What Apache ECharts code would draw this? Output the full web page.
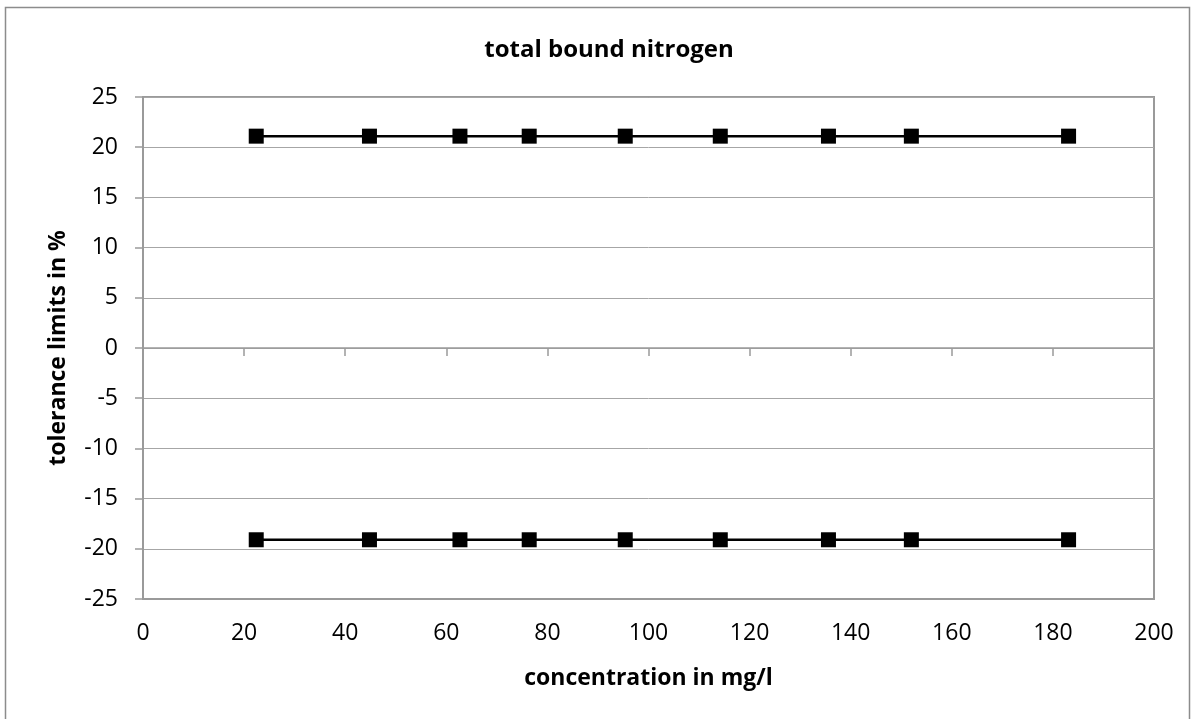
<!DOCTYPE html>
<html>
<head>
<meta charset="utf-8">
<script src="https://cdn.jsdelivr.net/npm/echarts@6/dist/echarts.min.js"></script>
<style>
    html, body { margin: 0; padding: 0; background: #fff; }
</style>
</head>
<body>
<div id="main" style="width: 1194px;height:719px;"></div>
<script>
    // concentration values (mg/l)
    var concentration = [22.4, 44.8, 62.7, 76.4, 95.4, 114.2, 135.6, 152.0, 183.1];
    // upper / lower tolerance limits (%)
    var upperLimit = [21.1, 21.1, 21.1, 21.1, 21.1, 21.1, 21.1, 21.1, 21.1];
    var lowerLimit = [-19.1, -19.1, -19.1, -19.1, -19.1, -19.1, -19.1, -19.1, -19.1];

    function pairs(xs, ys) {
        var out = [];
        for (var i = 0; i < xs.length; i++) {
            out.push([xs[i], ys[i]]);
        }
        return out;
    }

    var fontName = 'Open Sans';
    var myChart = echarts.init(document.getElementById('main'));

    var option = {
        backgroundColor: '#FFFFFF',
        animation: false,
        title: {
            text: 'total bound nitrogen',
            left: 604,
            textAlign: 'center',
            top: 33,
            textStyle: {color: '#000', fontFamily: fontName, fontWeight: 'bold', fontSize: 24}
        },
        graphic: [{
            type: 'rect',
            shape: {x: 5.5, y: 7.5, width: 1184, height: 716},
            style: {fill: 'none', stroke: '#8c8c8c', lineWidth: 1.5}
        }],
        grid: {
            show: true,
            left: 143,
            top: 97,
            right: 40,
            bottom: 120,
            borderColor: '#9a9a9a',
            borderWidth: 2,
            backgroundColor: '#FFFFFF'
        },
        xAxis: [{
            type: 'value',
            min: 0,
            max: 200,
            interval: 20,
            position: 'bottom',
            name: 'concentration in mg/l',
            nameLocation: 'middle',
            nameGap: 68,
            nameTextStyle: {color: '#000', fontFamily: fontName, fontWeight: 'bold', fontSize: 23},
            axisLine: {show: true, onZero: false, lineStyle: {color: '#9a9a9a', width: 2}},
            axisTick: {show: false},
            axisLabel: {color: '#000', fontFamily: fontName, fontSize: 23, margin: 23},
            splitLine: {show: false}
        }, {
            // tick marks sit on the zero line
            type: 'value',
            min: 0,
            max: 200,
            interval: 20,
            position: 'bottom',
            axisLine: {show: true, onZero: true, lineStyle: {color: '#9a9a9a', width: 1.5}},
            axisTick: {show: true, inside: false, length: 8, lineStyle: {color: '#9a9a9a', width: 1.5}},
            axisLabel: {show: false},
            splitLine: {show: false}
        }],
        yAxis: {
            type: 'value',
            min: -25,
            max: 25,
            interval: 5,
            name: 'tolerance limits in %',
            nameLocation: 'middle',
            nameGap: 73,
            nameTextStyle: {color: '#000', fontFamily: fontName, fontWeight: 'bold', fontSize: 23},
            axisLine: {show: true, lineStyle: {color: '#9a9a9a', width: 2}},
            axisTick: {show: true, length: 8, lineStyle: {color: '#9a9a9a', width: 1.5}},
            axisLabel: {color: '#000', fontFamily: fontName, fontSize: 23, margin: 25},
            splitLine: {show: true, lineStyle: {color: '#a6a6a6', width: 1}}
        },
        series: [{
            name: 'upper',
            type: 'line',
            xAxisIndex: 0,
            data: pairs(concentration, upperLimit),
            symbol: 'rect',
            symbolSize: 15,
            itemStyle: {color: '#000'},
            lineStyle: {color: '#000', width: 2.5}
        }, {
            name: 'lower',
            type: 'line',
            xAxisIndex: 0,
            data: pairs(concentration, lowerLimit),
            symbol: 'rect',
            symbolSize: 15,
            itemStyle: {color: '#000'},
            lineStyle: {color: '#000', width: 2.5}
        }]
    };

    myChart.setOption(option);
</script>
</body>
</html>
